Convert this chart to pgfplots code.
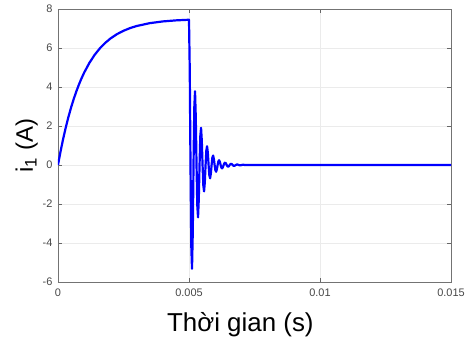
\documentclass[border=0pt]{standalone}
\usepackage{pgfplots}
\pgfplotsset{compat=1.18}
\usepackage{fontspec}
\setmainfont{Liberation Sans}
\begin{document}
\begin{tikzpicture}
\begin{axis}[at={(0bp,0bp)}, anchor=south west, scale only axis,
  width=393bp, height=273bp,
  xmin=0, xmax=0.015, ymin=-6, ymax=8,
  scaled x ticks=false, scaled y ticks=false,
  xtick={0,0.005,0.01,0.015}, xticklabels={0,0.005,0.01,0.015},
  ytick={-6,-4,-2,0,2,4,6,8},
  grid=major, major grid style={color=black!8, line width=0.7bp},
  axis line style={color=black!55, line width=0.8bp},
  tick style={color=black!60, line width=0.6bp}, tick align=inside, major tick length=4bp,
  /pgf/number format/assume math mode=true,
  ticklabel style={font=\fontsize{11}{13}\selectfont, color=black!72},
  yticklabel style={xshift=-2bp},
  xticklabel style={yshift=-3bp},
  xlabel={Thời gian (s)}, ylabel={i\textsubscript{1} (A)},
  xlabel style={font=\fontsize{26}{30}\selectfont, at={(axis description cs:0.464,-0.18)}, anchor=base},
  ylabel style={font=\fontsize{24}{28}\selectfont, at={(axis description cs:-0.064,0.5)}, rotate=0, anchor=base},
  clip=true,
]
\addplot[color={rgb,255:red,0;green,0;blue,255}, line width=2.2bp, line join=round] coordinates {
(0,0) (0.0001,0.714) (0.0002,1.360) (0.0003,1.944) (0.0004,2.473) (0.0005,2.951)
(0.0006,3.384) (0.0007,3.776) (0.0008,4.130) (0.0009,4.451) (0.001,4.741)
(0.0012,5.241) (0.0014,5.651) (0.0016,5.986) (0.0018,6.260) (0.002,6.485)
(0.00225,6.710) (0.0025,6.884) (0.00275,7.021) (0.003,7.127) (0.0035,7.274)
(0.004,7.363) (0.0045,7.417) (0.005,7.449)
(0.00502875,4.868) (0.0050575,0) (0.00508625,-4.103) (0.005115,-5.326)
(0.00514375,-3.457) (0.0051725,0) (0.00520125,2.913) (0.00523,3.782)
(0.00525875,2.455) (0.0052875,0) (0.00531625,-2.069) (0.005345,-2.686)
(0.00537375,-1.744) (0.0054025,0) (0.00543125,1.469) (0.00546,1.907)
(0.00548875,1.238) (0.0055175,0) (0.00554625,-1.043) (0.005575,-1.354)
(0.00560375,-0.879) (0.0056325,0) (0.00566125,0.741) (0.00569,0.962)
(0.00571875,0.624) (0.0057475,0) (0.00577625,-0.526) (0.005805,-0.683)
(0.00583375,-0.443) (0.0058625,0) (0.00589125,0.373) (0.00592,0.485)
(0.00594875,0.315) (0.0059775,0) (0.00600625,-0.265) (0.006035,-0.344)
(0.00606375,-0.223) (0.0060925,0) (0.00612125,0.188) (0.00615,0.245)
(0.00617875,0.158) (0.0062075,0) (0.00623625,-0.134) (0.006265,-0.174)
(0.00629375,-0.113) (0.0063225,0) (0.00635125,0.095) (0.00638,0.123)
(0.00640875,0.080) (0.0064375,0) (0.00646625,-0.067) (0.006495,-0.087)
(0.00652375,-0.057) (0.0065525,0) (0.00658125,0.048) (0.00661,0.062)
(0.00663875,0.040) (0.0066675,0) (0.00669625,-0.034) (0.0067255,-0.044)
(0.00675375,-0.029) (0.0067825,0) (0.00684,0.031) (0.0068975,0)
(0.006955,-0.022) (0.0070125,0) (0.00707,0.015) (0.0071275,0) (0.015,0)
};
\end{axis}
\pgfresetboundingbox
\useasboundingbox (-58bp,-56bp) rectangle (408bp,282bp);
\end{tikzpicture}
\end{document}
